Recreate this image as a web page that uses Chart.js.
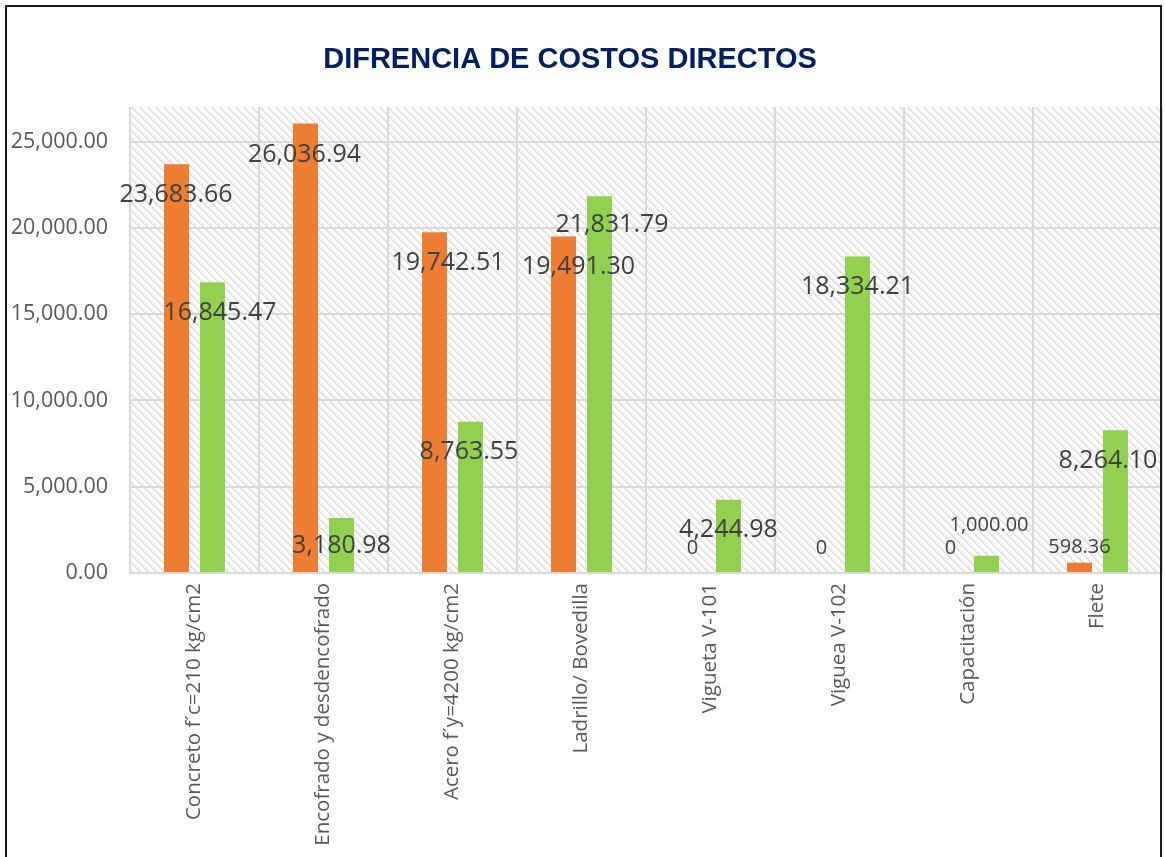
<!DOCTYPE html>
<html>
<head>
<meta charset="utf-8">
<title>Difrencia de costos directos</title>
<style>
  html, body { margin: 0; padding: 0; background: #ffffff; }
  #wrap { width: 1165px; height: 857px; position: relative; overflow: hidden; }
  canvas { display: block; }
</style>
<script src="https://cdn.jsdelivr.net/npm/chart.js@4.4.1/dist/chart.umd.min.js"></script>
</head>
<body>
<div id="wrap"><canvas id="c" width="1165" height="857"></canvas></div>
<script>
// Partidas comparadas
const categories = [
  'Concreto f\u00b4c=210 kg/cm2',
  'Encofrado y desdencofrado',
  'Acero f\u00b4y=4200 kg/cm2',
  'Ladrillo/ Bovedilla',
  'Vigueta V-101',
  'Viguea V-102',
  'Capacitaci\u00f3n',
  'Flete'
];

// Costos directos por partida (dos alternativas)
const costoSerie1 = [23683.66, 26036.94, 19742.51, 19491.30, 0, 0, 0, 598.36];
const costoSerie2 = [16845.47, 3180.98, 8763.55, 21831.79, 4244.98, 18334.21, 1000.00, 8264.10];

// Marcas del eje de valores
const yTickValues = [0, 5000, 10000, 15000, 20000, 25000];
const yAxisMax = 27000;

const chartTitle = 'DIFRENCIA DE COSTOS DIRECTOS';

// Desplazamiento de cada etiqueta respecto al extremo de su barra [dx, dy]
const labelShift = [
  [[-0.5, 31], [-1, 31], [13.5, 31], [15, 30], [0, -25], [0, -25], [0, -25], [0, -15]],
  [[7.5, 31], [0, 28], [-1.5, 30], [12.5, 29], [0, 30], [0, 30], [2.5, -30], [-7.5, 31]]
];

const fmt = new Intl.NumberFormat('en-US', { minimumFractionDigits: 2, maximumFractionDigits: 2 });

// Fondo rayado diagonal del área de trazado
function makeHatch(ctx) {
  const p = document.createElement('canvas');
  p.width = 8; p.height = 8;
  const g = p.getContext('2d');
  g.fillStyle = '#ffffff';
  g.fillRect(0, 0, 8, 8);
  g.fillStyle = '#e0e0e0';
  for (let y = 0; y < 8; y++) {
    for (let x = 0; x < 8; x++) {
      const d = ((x - y) % 8 + 8) % 8;
      if (d === 0 || d === 1) g.fillRect(x, y, 1, 1);
      else if (d === 2) { g.globalAlpha = 0.4; g.fillRect(x, y, 1, 1); g.globalAlpha = 1; }
    }
  }
  return ctx.createPattern(p, 'repeat');
}

const framePlugin = {
  id: 'frame',
  beforeDraw(chart) {
    const { ctx, chartArea: a } = chart;
    ctx.save();
    ctx.fillStyle = '#ffffff';
    ctx.fillRect(0, 0, chart.width, chart.height);
    ctx.fillStyle = makeHatch(ctx);
    ctx.fillRect(a.left, a.top, a.right - a.left, a.bottom - a.top);
    ctx.restore();
  },
  afterDraw(chart) {
    const { ctx } = chart;
    ctx.save();
    // título
    ctx.fillStyle = '#002060';
    ctx.font = 'bold 29px "Liberation Sans", Arial, sans-serif';
    ctx.textAlign = 'center';
    ctx.textBaseline = 'middle';
    ctx.fillText(chartTitle, 570, 60);
    // marco exterior
    ctx.strokeStyle = '#1a1a1a';
    ctx.lineWidth = 2;
    ctx.beginPath();
    ctx.moveTo(6, chart.height + 2);
    ctx.lineTo(6, 6);
    ctx.lineTo(1161, 6);
    ctx.lineTo(1161, chart.height + 2);
    ctx.stroke();
    ctx.restore();
  }
};

const valueLabelPlugin = {
  id: 'valueLabels',
  afterDatasetsDraw(chart) {
    const { ctx } = chart;
    ctx.save();
    ctx.fillStyle = '#404040';
    ctx.textAlign = 'center';
    ctx.textBaseline = 'middle';
    chart.data.datasets.forEach((ds, di) => {
      const meta = chart.getDatasetMeta(di);
      meta.data.forEach((bar, i) => {
        const v = ds.data[i];
        const txt = v === 0 ? '0' : fmt.format(v);
        const size = v < 2000 ? 20 : 25;
        ctx.font = size + 'px "Open Sans", sans-serif';
        const s = labelShift[di][i];
        ctx.fillText(txt, bar.x + s[0], bar.y + s[1]);
      });
    });
    ctx.restore();
  }
};

new Chart(document.getElementById('c'), {
  type: 'bar',
  data: {
    labels: categories,
    datasets: [
      { label: 'Serie 1', data: costoSerie1, backgroundColor: '#ED7D31', borderWidth: 0 },
      { label: 'Serie 2', data: costoSerie2, backgroundColor: '#92D050', borderWidth: 0 }
    ]
  },
  options: {
    responsive: false,
    animation: false,
    devicePixelRatio: 1,
    categoryPercentage: 0.558,
    barPercentage: 0.694,
    layout: { autoPadding: false, padding: { top: 107, right: 3, left: 0, bottom: 0 } },
    plugins: {
      legend: { display: false },
      title: { display: false },
      tooltip: { enabled: false }
    },
    scales: {
      x: {
        offset: true,
        grid: { offset: true, color: '#d9d9d9', lineWidth: 2, drawTicks: false },
        border: { display: true, color: '#d9d9d9', width: 2 },
        ticks: {
          minRotation: 90, maxRotation: 90, autoSkip: false, padding: 10,
          color: '#595959', font: { family: '"Open Sans", sans-serif', size: 20.5 }
        },
        afterFit(scale) { scale.height = 284; }
      },
      y: {
        min: 0, max: yAxisMax,
        afterBuildTicks(scale) { scale.ticks = yTickValues.map(v => ({ value: v })); },
        grid: { color: '#d9d9d9', lineWidth: 2, drawTicks: false },
        border: { display: false },
        ticks: {
          padding: 22, color: '#595959',
          font: { family: '"Open Sans", sans-serif', size: 21.5 },
          callback: v => fmt.format(v)
        },
        afterFit(scale) { scale.width = 130; }
      }
    }
  },
  plugins: [framePlugin, valueLabelPlugin]
});
</script>
</body>
</html>
